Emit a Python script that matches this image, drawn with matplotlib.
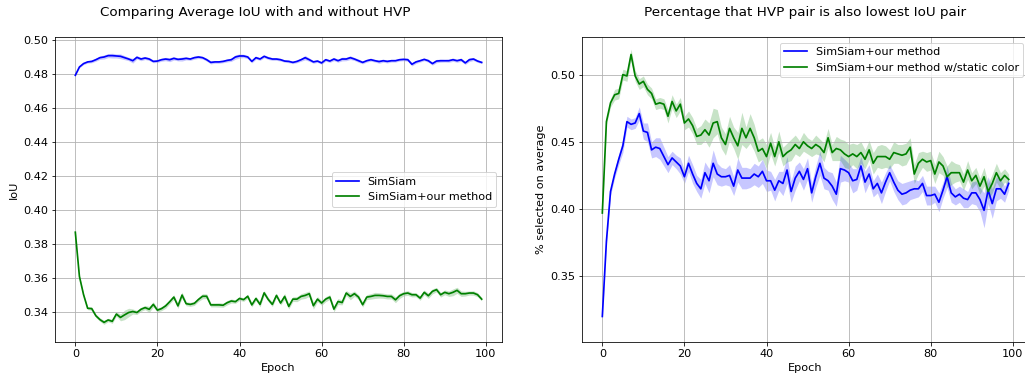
import numpy as np
import matplotlib
matplotlib.use("Agg")
import matplotlib.pyplot as plt
from matplotlib.ticker import MultipleLocator

plt.rcParams["font.size"] = 11.2

epochs = np.arange(100)

# left plot: average IoU
simsiam_iou = [0.4794, 0.4843, 0.4863, 0.4873, 0.4876, 0.4886, 0.4898, 0.4902, 0.4910, 0.4910,
               0.4908, 0.4906, 0.4898, 0.4890, 0.4880, 0.4900, 0.4890, 0.4896, 0.4890, 0.4876,
               0.4878, 0.4886, 0.4890, 0.4886, 0.4894, 0.4888, 0.4890, 0.4894, 0.4890, 0.4898,
               0.4902, 0.4898, 0.4886, 0.4870, 0.4873, 0.4873, 0.4876, 0.4882, 0.4886, 0.4902,
               0.4908, 0.4908, 0.4902, 0.4876, 0.4898, 0.4890, 0.4906, 0.4896, 0.4890, 0.4890,
               0.4886, 0.4878, 0.4876, 0.4870, 0.4876, 0.4886, 0.4898, 0.4886, 0.4873, 0.4878,
               0.4867, 0.4886, 0.4878, 0.4890, 0.4880, 0.4890, 0.4890, 0.4898, 0.4890, 0.4880,
               0.4870, 0.4880, 0.4886, 0.4880, 0.4875, 0.4880, 0.4876, 0.4880, 0.4880, 0.4886,
               0.4888, 0.4886, 0.4859, 0.4873, 0.4880, 0.4888, 0.4880, 0.4863, 0.4878, 0.4880,
               0.4880, 0.4880, 0.4886, 0.4880, 0.4886, 0.4867, 0.4886, 0.4890, 0.4878, 0.4870]
simsiam_iou_err = [0.0003, 0.0005, 0.0006, 0.0007, 0.0008, 0.0009, 0.0010, 0.0012, 0.0012, 0.0014,
                   0.0012, 0.0014, 0.0012, 0.0010, 0.0014, 0.0010, 0.0010, 0.0009, 0.0009, 0.0008,
                   0.0008, 0.0009, 0.0010, 0.0012, 0.0010, 0.0009, 0.0012, 0.0009, 0.0008, 0.0009,
                   0.0009, 0.0008, 0.0009, 0.0009, 0.0008, 0.0008, 0.0008, 0.0009, 0.0010, 0.0013,
                   0.0012, 0.0010, 0.0009, 0.0009, 0.0009, 0.0008, 0.0009, 0.0009, 0.0008, 0.0008,
                   0.0008, 0.0007, 0.0008, 0.0007, 0.0008, 0.0009, 0.0013, 0.0010, 0.0008, 0.0008,
                   0.0008, 0.0009, 0.0008, 0.0010, 0.0009, 0.0011, 0.0010, 0.0011, 0.0009, 0.0010,
                   0.0008, 0.0008, 0.0009, 0.0008, 0.0010, 0.0009, 0.0009, 0.0008, 0.0008, 0.0008,
                   0.0008, 0.0009, 0.0010, 0.0009, 0.0008, 0.0008, 0.0009, 0.0009, 0.0010, 0.0009,
                   0.0008, 0.0009, 0.0010, 0.0009, 0.0010, 0.0009, 0.0011, 0.0009, 0.0008, 0.0007]

ours_iou = [0.3868, 0.3607, 0.3500, 0.3419, 0.3417, 0.3375, 0.3352, 0.3336, 0.3350, 0.3342,
            0.3385, 0.3365, 0.3380, 0.3394, 0.3400, 0.3394, 0.3413, 0.3423, 0.3413, 0.3442,
            0.3408, 0.3417, 0.3433, 0.3458, 0.3485, 0.3433, 0.3497, 0.3446, 0.3442, 0.3448,
            0.3471, 0.3490, 0.3490, 0.3439, 0.3439, 0.3439, 0.3437, 0.3452, 0.3462, 0.3458,
            0.3477, 0.3470, 0.3490, 0.3439, 0.3477, 0.3442, 0.3510, 0.3471, 0.3442, 0.3495,
            0.3450, 0.3489, 0.3430, 0.3473, 0.3473, 0.3489, 0.3495, 0.3505, 0.3434, 0.3473,
            0.3450, 0.3473, 0.3485, 0.3414, 0.3459, 0.3453, 0.3509, 0.3489, 0.3505, 0.3485,
            0.3440, 0.3485, 0.3489, 0.3495, 0.3495, 0.3493, 0.3489, 0.3489, 0.3469, 0.3493,
            0.3505, 0.3509, 0.3499, 0.3499, 0.3479, 0.3513, 0.3493, 0.3519, 0.3529, 0.3499,
            0.3513, 0.3505, 0.3513, 0.3525, 0.3505, 0.3505, 0.3509, 0.3509, 0.3499, 0.3473]
ours_iou_err = [0.0003, 0.0005, 0.0006, 0.0008, 0.0010, 0.0010, 0.0010, 0.0012, 0.0010, 0.0012,
                0.0012, 0.0020, 0.0028, 0.0025, 0.0015, 0.0012, 0.0012, 0.0012, 0.0018, 0.0015,
                0.0012, 0.0012, 0.0014, 0.0012, 0.0014, 0.0015, 0.0018, 0.0012, 0.0012, 0.0012,
                0.0012, 0.0015, 0.0014, 0.0012, 0.0012, 0.0013, 0.0012, 0.0013, 0.0012, 0.0010,
                0.0012, 0.0010, 0.0012, 0.0012, 0.0012, 0.0015, 0.0014, 0.0012, 0.0013, 0.0012,
                0.0012, 0.0018, 0.0015, 0.0014, 0.0015, 0.0016, 0.0018, 0.0016, 0.0020, 0.0015,
                0.0014, 0.0015, 0.0014, 0.0016, 0.0018, 0.0014, 0.0015, 0.0020, 0.0016, 0.0014,
                0.0014, 0.0015, 0.0016, 0.0018, 0.0016, 0.0015, 0.0015, 0.0015, 0.0017, 0.0016,
                0.0013, 0.0014, 0.0013, 0.0012, 0.0013, 0.0014, 0.0016, 0.0015, 0.0013, 0.0014,
                0.0014, 0.0016, 0.0020, 0.0018, 0.0016, 0.0014, 0.0012, 0.0013, 0.0012, 0.0010]

# right plot: % of HVP pair also lowest IoU pair
ours_pct = [0.320, 0.376, 0.413, 0.426, 0.437, 0.447, 0.465, 0.463, 0.464, 0.471,
            0.458, 0.457, 0.444, 0.446, 0.445, 0.439, 0.433, 0.438, 0.435, 0.432,
            0.424, 0.434, 0.426, 0.419, 0.415, 0.427, 0.421, 0.434, 0.426, 0.424,
            0.424, 0.425, 0.417, 0.429, 0.423, 0.423, 0.423, 0.426, 0.424, 0.428,
            0.421, 0.421, 0.414, 0.421, 0.419, 0.429, 0.413, 0.423, 0.428, 0.422,
            0.430, 0.412, 0.424, 0.434, 0.423, 0.421, 0.417, 0.411, 0.430, 0.429,
            0.427, 0.421, 0.422, 0.432, 0.420, 0.426, 0.415, 0.419, 0.412, 0.420,
            0.427, 0.420, 0.414, 0.411, 0.412, 0.414, 0.415, 0.415, 0.419, 0.410,
            0.410, 0.411, 0.405, 0.414, 0.424, 0.412, 0.409, 0.411, 0.408, 0.407,
            0.412, 0.412, 0.407, 0.399, 0.414, 0.404, 0.415, 0.415, 0.411, 0.419]
ours_pct_err = [0.001, 0.002, 0.003, 0.003, 0.004, 0.005, 0.004, 0.004, 0.004, 0.005,
                0.006, 0.007, 0.006, 0.007, 0.008, 0.007, 0.006, 0.005, 0.005, 0.006,
                0.005, 0.006, 0.007, 0.006, 0.007, 0.008, 0.009, 0.010, 0.008, 0.007,
                0.006, 0.008, 0.007, 0.009, 0.008, 0.008, 0.007, 0.008, 0.008, 0.009,
                0.008, 0.007, 0.008, 0.007, 0.009, 0.010, 0.008, 0.009, 0.007, 0.008,
                0.008, 0.007, 0.008, 0.009, 0.008, 0.007, 0.010, 0.009, 0.010, 0.008,
                0.007, 0.009, 0.008, 0.007, 0.008, 0.007, 0.006, 0.007, 0.008, 0.007,
                0.006, 0.007, 0.007, 0.008, 0.008, 0.007, 0.007, 0.006, 0.006, 0.007,
                0.007, 0.006, 0.007, 0.006, 0.008, 0.007, 0.006, 0.006, 0.007, 0.006,
                0.008, 0.009, 0.009, 0.013, 0.010, 0.011, 0.009, 0.007, 0.006, 0.005]

static_pct = [0.397, 0.465, 0.479, 0.485, 0.486, 0.500, 0.499, 0.515, 0.499, 0.493,
              0.495, 0.489, 0.486, 0.478, 0.479, 0.478, 0.469, 0.480, 0.473, 0.478,
              0.464, 0.467, 0.462, 0.454, 0.455, 0.459, 0.455, 0.464, 0.465, 0.453,
              0.448, 0.460, 0.453, 0.447, 0.460, 0.453, 0.460, 0.453, 0.443, 0.445,
              0.439, 0.449, 0.439, 0.450, 0.439, 0.442, 0.444, 0.448, 0.445, 0.450,
              0.447, 0.445, 0.448, 0.446, 0.442, 0.453, 0.442, 0.445, 0.444, 0.441,
              0.439, 0.441, 0.439, 0.442, 0.437, 0.444, 0.434, 0.439, 0.439, 0.439,
              0.437, 0.442, 0.441, 0.440, 0.441, 0.446, 0.426, 0.434, 0.437, 0.435,
              0.436, 0.426, 0.435, 0.432, 0.424, 0.427, 0.427, 0.427, 0.420, 0.429,
              0.421, 0.425, 0.417, 0.424, 0.413, 0.419, 0.427, 0.421, 0.425, 0.422]
static_pct_err = [0.001, 0.002, 0.003, 0.004, 0.004, 0.004, 0.004, 0.004, 0.004, 0.004,
                  0.004, 0.004, 0.004, 0.004, 0.004, 0.004, 0.005, 0.005, 0.005, 0.005,
                  0.005, 0.006, 0.006, 0.006, 0.007, 0.008, 0.009, 0.011, 0.009, 0.008,
                  0.008, 0.009, 0.008, 0.010, 0.012, 0.008, 0.011, 0.010, 0.008, 0.008,
                  0.009, 0.008, 0.007, 0.008, 0.007, 0.007, 0.008, 0.007, 0.006, 0.007,
                  0.006, 0.006, 0.007, 0.006, 0.007, 0.007, 0.006, 0.009, 0.008, 0.010,
                  0.009, 0.008, 0.009, 0.008, 0.007, 0.007, 0.008, 0.008, 0.009, 0.008,
                  0.007, 0.008, 0.007, 0.008, 0.008, 0.007, 0.007, 0.008, 0.006, 0.007,
                  0.007, 0.007, 0.008, 0.007, 0.008, 0.009, 0.007, 0.006, 0.006, 0.007,
                  0.006, 0.006, 0.006, 0.007, 0.006, 0.007, 0.007, 0.006, 0.005, 0.004]


def band(ax, y, err, color, label):
    y = np.array(y)
    err = np.array(err)
    ax.fill_between(epochs, y - err, y + err, color=color, alpha=0.22, linewidth=0)
    ax.plot(epochs, y, color=color, label=label, linewidth=1.7)


fig = plt.figure(figsize=(1025 / 72, 375 / 72), dpi=72)
ax1 = fig.add_axes([55 / 1025, 33 / 375, 447 / 1025, 305 / 375])
ax2 = fig.add_axes([582 / 1025, 33 / 375, 447 / 1025, 305 / 375])

band(ax1, simsiam_iou, simsiam_iou_err, "b", "SimSiam")
band(ax1, ours_iou, ours_iou_err, "g", "SimSiam+our method")
ax1.set_title("Comparing Average IoU with and without HVP", pad=21, x=0.447)
ax1.set_xlabel("Epoch")
ax1.set_ylabel("IoU")
ax1.set_ylim(0.322, 0.502)
ax1.grid(True)
ax1.legend(loc="center right")

band(ax2, ours_pct, ours_pct_err, "b", "SimSiam+our method")
band(ax2, static_pct, static_pct_err, "g", "SimSiam+our method w/static color")
ax2.set_title("Percentage that HVP pair is also lowest IoU pair", pad=21)
ax2.set_xlabel("Epoch")
ax2.set_ylabel("% selected on average")
ax2.set_ylim(0.301, 0.528)
ax2.yaxis.set_major_locator(MultipleLocator(0.05))
ax2.grid(True)
ax2.legend(loc="upper right")

plt.savefig("out.png", dpi=72)
